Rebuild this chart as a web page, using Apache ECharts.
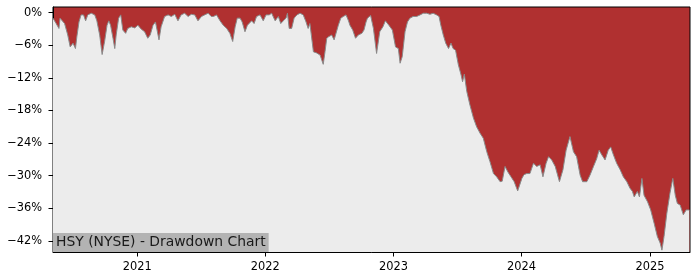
<!DOCTYPE html>
<html><head><meta charset="utf-8">
<script src="https://cdn.jsdelivr.net/npm/echarts@6/dist/echarts.min.js"></script>
<style>html,body{margin:0;padding:0;background:#fff}#c{width:700px;height:280px}</style>
</head><body><div id="c"></div>
<script>
const titleText = 'HSY (NYSE) - Drawdown Chart';
const yTicks = [0, -6, -12, -18, -24, -30, -36, -42];
const xTickYears = [2021, 2022, 2023, 2024, 2025];
const dates = [
'2020-05-06','2020-05-15','2020-05-23','2020-05-26','2020-05-31','2020-06-08','2020-06-17','2020-06-24','2020-07-02','2020-07-09',
'2020-07-13','2020-07-19','2020-07-25','2020-08-01','2020-08-07','2020-08-13','2020-08-23','2020-09-02','2020-09-08','2020-09-16',
'2020-09-23','2020-09-30','2020-10-07','2020-10-12','2020-10-17','2020-10-24','2020-10-29','2020-11-02','2020-11-09','2020-11-15',
'2020-11-21','2020-11-29','2020-12-05','2020-12-15','2020-12-25','2021-01-03','2021-01-12','2021-01-22','2021-01-31','2021-02-07',
'2021-02-15','2021-02-22','2021-03-04','2021-03-10','2021-03-20','2021-03-30','2021-04-08','2021-04-18','2021-04-27','2021-05-06',
'2021-05-16','2021-05-26','2021-06-04','2021-06-14','2021-06-23','2021-07-03','2021-07-12','2021-07-22','2021-07-31','2021-08-06',
'2021-08-15','2021-08-25','2021-09-03','2021-09-13','2021-09-22','2021-09-30','2021-10-07','2021-10-13','2021-10-21','2021-10-27',
'2021-11-04','2021-11-11','2021-11-16','2021-11-23','2021-11-30','2021-12-07','2021-12-17','2021-12-26','2022-01-03','2022-01-12',
'2022-01-19','2022-01-29','2022-02-07','2022-02-14','2022-02-21','2022-03-01','2022-03-05','2022-03-10','2022-03-17','2022-03-24',
'2022-04-01','2022-04-10','2022-04-19','2022-04-27','2022-05-03','2022-05-08','2022-05-13','2022-05-18','2022-05-27','2022-06-06',
'2022-06-15','2022-06-20','2022-06-25','2022-07-01','2022-07-09','2022-07-16','2022-07-21','2022-07-28','2022-08-04','2022-08-11',
'2022-08-19','2022-08-26','2022-08-30','2022-09-07','2022-09-15','2022-09-23','2022-10-03','2022-10-09','2022-10-15','2022-10-19',
'2022-10-28','2022-11-05','2022-11-14','2022-11-23','2022-12-02','2022-12-09','2022-12-19','2022-12-29','2023-01-07','2023-01-15',
'2023-01-20','2023-01-26','2023-02-03','2023-02-10','2023-02-17','2023-02-26','2023-03-08','2023-03-18','2023-03-27','2023-04-06',
'2023-04-15','2023-04-24','2023-05-04','2023-05-11','2023-05-16','2023-05-23','2023-05-30','2023-06-07','2023-06-14','2023-06-20',
'2023-06-27','2023-07-05','2023-07-13','2023-07-17','2023-07-22','2023-07-29','2023-08-07','2023-08-17','2023-08-26','2023-09-05',
'2023-09-14','2023-09-24','2023-10-03','2023-10-13','2023-10-22','2023-11-01','2023-11-07','2023-11-15','2023-11-23','2023-12-02',
'2023-12-11','2023-12-21','2024-01-02','2024-01-08','2024-01-16','2024-01-25','2024-02-04','2024-02-13','2024-02-23','2024-03-02',
'2024-03-11','2024-03-18','2024-03-27','2024-04-06','2024-04-18','2024-04-28','2024-05-07','2024-05-18','2024-05-28','2024-06-06',
'2024-06-16','2024-06-23','2024-07-05','2024-07-14','2024-07-24','2024-08-02','2024-08-09','2024-08-17','2024-08-26','2024-09-04',
'2024-09-11','2024-09-19','2024-09-28','2024-10-08','2024-10-17','2024-10-27','2024-11-05','2024-11-12','2024-11-17','2024-11-26',
'2024-12-02','2024-12-09','2024-12-15','2024-12-25','2025-01-03','2025-01-13','2025-01-22','2025-01-30','2025-02-04','2025-02-10',
'2025-02-18','2025-02-27','2025-03-07','2025-03-14','2025-03-20','2025-03-28','2025-04-06','2025-04-14','2025-04-23'
];
const drawdown = [
-1.0,-2.0,-2.9,-1.0,-0.7,-2.0,-4.1,-6.3,-5.6,-6.6,
-4.4,-1.7,-0.4,-0.4,-1.5,-0.4,-0.1,-0.4,-1.5,-4.1,
-7.7,-5.3,-2.3,-1.5,-2.3,-4.7,-6.6,-4.1,-1.0,-0.4,
-3.2,-3.8,-2.9,-2.6,-2.8,-2.3,-3.0,-3.5,-4.7,-4.1,
-2.3,-1.7,-5.0,-2.6,-0.7,-0.4,-0.7,-0.3,-1.5,-0.4,
-0.1,-0.7,-0.3,-0.4,-1.5,-0.7,-0.4,-0.1,-0.7,-0.7,
-0.4,-1.5,-2.3,-2.9,-3.8,-5.3,-2.6,-1.0,-1.0,-1.7,
-3.5,-2.3,-2.3,-1.5,-2.0,-0.7,-0.4,-1.5,-0.4,-0.4,
-0.1,-1.5,-0.7,-2.0,-1.5,-1.0,-0.1,-2.9,-2.9,-1.0,
-0.4,-0.1,-0.4,-1.7,-2.9,-2.0,-2.3,-7.2,-7.4,-7.8,
-9.5,-7.2,-4.7,-4.4,-4.1,-5.0,-5.3,-2.3,-1.0,-0.7,
-0.4,-1.5,-2.3,-3.2,-4.7,-4.1,-3.8,-3.2,-1.7,-1.0,
-0.5,-2.9,-7.5,-3.5,-2.6,-1.5,-2.3,-3.2,-6.3,-6.6,
-9.3,-8.1,-3.5,-1.7,-1.0,-0.7,-0.7,-0.4,-0.1,-0.1,
-0.3,-0.1,-0.4,-0.7,-2.3,-4.1,-5.6,-6.6,-5.6,-6.6,
-6.9,-9.6,-11.5,-12.7,-11.3,-14.5,-17.0,-19.4,-21.0,-22.2,
-23.1,-25.6,-27.4,-29.6,-30.2,-31.1,-31.0,-28.3,-29.3,-30.2,
-31.1,-32.8,-30.5,-29.8,-29.6,-29.6,-27.7,-28.3,-28.0,-30.2,
-27.7,-26.5,-27.1,-28.3,-31.1,-28.9,-25.3,-22.8,-25.6,-26.5,
-29.9,-31.1,-31.1,-29.9,-28.3,-26.9,-25.3,-26.2,-27.1,-25.3,
-24.7,-26.2,-27.7,-28.9,-30.2,-31.1,-32.3,-32.9,-33.9,-32.9,
-33.9,-30.5,-33.6,-34.8,-36.3,-38.8,-41.2,-42.4,-43.7,-41.2,
-36.9,-33.2,-30.5,-33.6,-35.1,-35.4,-37.2,-36.3,-36.3
];
const xStart = '2020-05-06', xEnd = '2025-04-25';
const yMin = -44.04, yMax = 1.05;

const parse = s => { const p = s.split('-').map(Number); return Date.UTC(p[0], p[1]-1, p[2]); };
const seriesData = dates.map((d, i) => [parse(d), drawdown[i]]);
const xTickVals = xTickYears.map(y => Date.UTC(y, 0, 1));
const font = 'DejaVu Sans';

const chart = echarts.init(document.getElementById('c'), null, {renderer: 'canvas'});
chart.setOption({
  animation: false,
  backgroundColor: '#ffffff',
  grid: {left: 53, right: 10, top: 7, bottom: 28, show: true, backgroundColor: '#b03030', borderColor: '#000', borderWidth: 1},
  title: {
    text: titleText, left: 53, bottom: 28, padding: [2, 3, 2, 3],
    backgroundColor: '#b3b3b3',
    textStyle: {fontFamily: font, fontSize: 13.9, fontWeight: 'normal', color: '#1a1a1a', lineHeight: 15}
  },
  xAxis: {
    type: 'value', min: parse(xStart), max: parse(xEnd), scale: true,
    axisLine: {show: true, onZero: false, lineStyle: {color: '#000', width: 1}},
    axisTick: {show: true, length: 4.5, lineStyle: {color: '#000'}, customValues: xTickVals},
    axisLabel: {customValues: xTickVals, formatter: v => String(new Date(v).getUTCFullYear()), fontFamily: font, fontSize: 11.4, color: '#000', margin: 10},
    splitLine: {show: false}
  },
  yAxis: {
    type: 'value', min: yMin, max: yMax,
    axisLine: {show: true, onZero: false, lineStyle: {color: '#000', width: 1}},
    axisTick: {show: true, length: 4.5, lineStyle: {color: '#000'}, customValues: yTicks},
    axisLabel: {customValues: yTicks, formatter: v => (v === 0 ? '0%' : '\u2212' + Math.abs(v) + '%'), fontFamily: font, fontSize: 11.4, color: '#000', margin: 11},
    splitLine: {show: false}
  },
  series: [{
    type: 'line', data: seriesData, showSymbol: false, symbol: 'none',
    lineStyle: {color: '#8a8a8a', width: 1},
    areaStyle: {color: '#ececec', opacity: 1, origin: 'start'},
    z: 2
  }]
});
</script></body></html>
